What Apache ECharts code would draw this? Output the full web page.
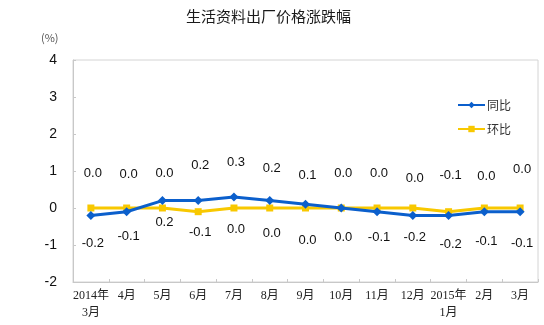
<!DOCTYPE html>
<html>
<head>
<meta charset="utf-8">
<script src="https://cdn.jsdelivr.net/npm/echarts@6/dist/echarts.min.js"></script>
<style>
  html, body { margin: 0; padding: 0; background: #fff; }
  #chart { width: 544px; height: 325px; }
</style>
</head>
<body>
<div id="chart"></div>
<script>
// Months along the horizontal axis
const months = ['2014年\n3月', '4月', '5月', '6月', '7月', '8月', '9月', '10月', '11月', '12月', '2015年\n1月', '2月', '3月'];
// Year-on-year change (%)
const yoy = [-0.2, -0.1, 0.2, 0.2, 0.3, 0.2, 0.1, 0.0, -0.1, -0.2, -0.2, -0.1, -0.1];
// Month-on-month change (%)
const mom = [0.0, 0.0, 0.0, -0.1, 0.0, 0.0, 0.0, 0.0, 0.0, 0.0, -0.1, 0.0, 0.0];
// Y axis range
const yTicks = [-2, -1, 0, 1, 2, 3, 4];

// Vertical pixel shift of each value label from its point (layout only)
const yoyLabelShift = [28, 25, 22, -35, -34, -32, -29, -35, 26, 22, 29, 30, 32];
const momLabelShift = [-35, -34, -35, 21, 21, 25, 32, 29, -35, -30, -36, -32, -39];

const BLUE = '#0b5fcc';
const YELLOW = '#f8c800';
const NUM_FONT = '"Liberation Sans", Arial, sans-serif';

function withLabels(values, shifts) {
  return values.map((v, i) => ({
    value: v,
    label: { offset: [2, shifts[i]] }
  }));
}

const chart = echarts.init(document.getElementById('chart'), null, { renderer: 'canvas' });

chart.setOption({
  animation: false,
  backgroundColor: '#fff',
  title: {
    text: '生活资料出厂价格涨跌幅',
    left: 181,
    top: 4,
    textStyle: {
      fontFamily: '"Noto Sans CJK SC", sans-serif',
      fontSize: 15,
      fontWeight: 'normal',
      color: '#1a1a1a'
    }
  },
  graphic: [{
    type: 'text',
    left: 41,
    top: 32,
    style: {
      text: '(%)',
      font: '11px "Noto Sans CJK SC", sans-serif',
      fill: '#555'
    }
  }],
  legend: {
    orient: 'vertical',
    left: 452,
    top: 94,
    itemWidth: 27,
    itemHeight: 8,
    itemGap: 12,
    textStyle: {
      fontFamily: '"Noto Sans CJK SC", sans-serif',
      fontSize: 12,
      color: '#333',
      padding: [0, 0, 0, -3]
    },
    data: ['同比', '环比']
  },
  grid: {
    left: 73,
    top: 60,
    right: 6,
    bottom: 43,
    show: true,
    borderColor: '#d4d4d4',
    borderWidth: 1
  },
  xAxis: {
    type: 'category',
    data: months,
    boundaryGap: true,
    axisLine: { onZero: false, lineStyle: { color: '#c8c8c8' } },
    axisTick: { show: true, inside: true, length: 3, lineStyle: { color: '#c8c8c8' } },
    axisLabel: {
      interval: 0,
      margin: 5,
      fontFamily: '"Liberation Serif", "Noto Sans CJK SC", serif',
      fontSize: 12,
      lineHeight: 17,
      color: '#222'
    },
    splitLine: { show: false }
  },
  yAxis: {
    type: 'value',
    min: yTicks[0],
    max: yTicks[yTicks.length - 1],
    interval: 1,
    axisLine: { show: true, lineStyle: { color: '#c8c8c8' } },
    axisTick: { show: true, inside: true, length: 3, lineStyle: { color: '#c8c8c8' } },
    axisLabel: {
      margin: 16,
      fontFamily: NUM_FONT,
      fontSize: 14,
      color: '#111'
    },
    splitLine: { show: false }
  },
  series: [
    {
      name: '同比',
      type: 'line',
      data: withLabels(yoy, yoyLabelShift),
      symbol: 'diamond',
      symbolSize: 9,
      z: 3,
      itemStyle: { color: BLUE },
      lineStyle: { color: BLUE, width: 3 },
      label: {
        show: true,
        position: 'inside',
        formatter: p => p.value.toFixed(1),
        fontFamily: NUM_FONT,
        fontSize: 13,
        color: '#111'
      }
    },
    {
      name: '环比',
      type: 'line',
      data: withLabels(mom, momLabelShift),
      symbol: 'rect',
      symbolSize: 7,
      z: 2,
      itemStyle: { color: YELLOW },
      lineStyle: { color: YELLOW, width: 3 },
      label: {
        show: true,
        position: 'inside',
        formatter: p => p.value.toFixed(1),
        fontFamily: NUM_FONT,
        fontSize: 13,
        color: '#111'
      }
    }
  ]
});
</script>
</body>
</html>
